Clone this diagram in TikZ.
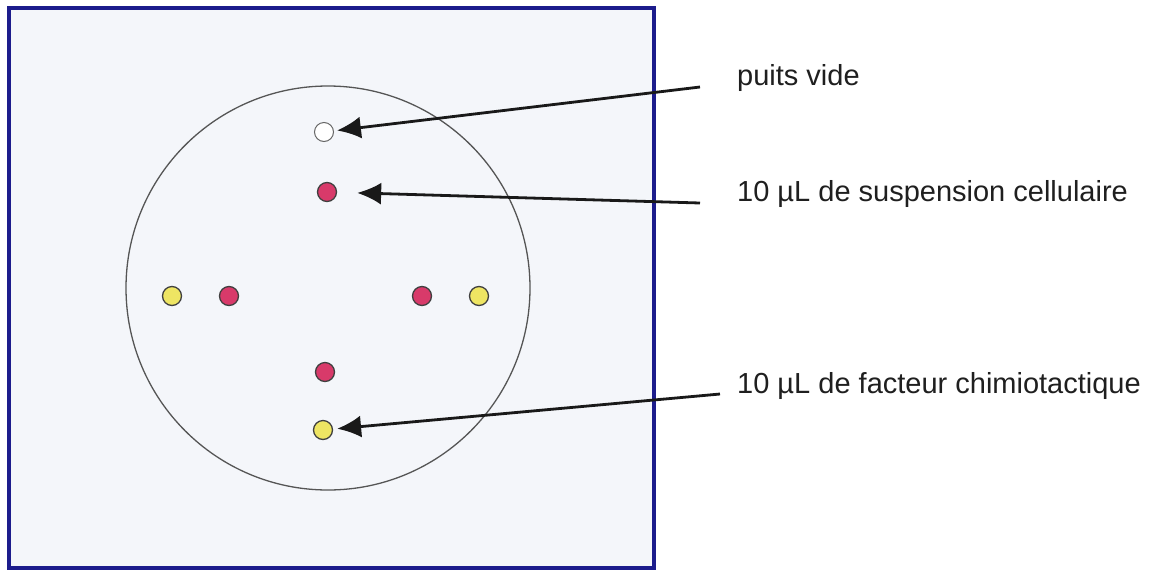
\documentclass[tikz,border=0pt]{standalone}
\usepackage{fontspec}
\setmainfont{Liberation Sans}
\usetikzlibrary{arrows.meta}
\definecolor{frameblue}{HTML}{1C1C8C}
\definecolor{platebg}{HTML}{F4F6FA}
\definecolor{wellred}{HTML}{D83A6A}
\definecolor{wellyellow}{HTML}{EEE563}
\definecolor{rimgrey}{HTML}{555555}
\begin{document}
\begin{tikzpicture}[x=1pt,y=-1pt,
  well/.style={circle,draw=black!75,line width=1.3pt,minimum size=19pt,inner sep=0pt},
  redwell/.style={well,fill=wellred},
  yellowwell/.style={well,fill=wellyellow},
  emptywell/.style={well,draw=black!60,fill=white,line width=1pt},
  lbl/.style={anchor=base west,font=\fontsize{29}{34}\selectfont,inner sep=0pt,text=black!88},
  pointer/.style={draw=black!90,line width=2.8pt,-{Latex[length=24pt,width=22pt]}}]
\useasboundingbox (0,0) rectangle (1156,571);
\fill[white] (0,0) rectangle (1156,571);
\draw[frameblue,line width=4pt,fill=platebg] (8.5,7.5) rectangle (653.5,567.5);
\draw[rimgrey,line width=1.3pt] (328,288) circle[radius=202];
\node[emptywell]  (empty) at (324,132) {};
\node[redwell]    (rtop) at (327,192) {};
\node[yellowwell] (yleft) at (172,296) {};
\node[redwell]    (rleft) at (229,296) {};
\node[redwell]    (rright) at (422,296) {};
\node[yellowwell] (yright) at (479,296) {};
\node[redwell]    (rbot) at (325,372) {};
\node[yellowwell] (ybot) at (323,430) {};
\node[lbl] (t1) at (737,85) {puits vide};
\node[lbl] (t2) at (737,201) {10 µL de suspension cellulaire};
\node[lbl] (t3) at (737,393) {10 µL de facteur chimiotactique};
\coordinate (s1) at (700,87);
\coordinate (s2) at (700,203);
\coordinate (s3) at (720,394);
\draw[pointer,shorten >=3pt] (s1) -- (empty);
\draw[pointer,shorten >=20pt] (s2) -- (rtop);
\draw[pointer,shorten >=4pt] (s3) -- (ybot);
\end{tikzpicture}
\end{document}
